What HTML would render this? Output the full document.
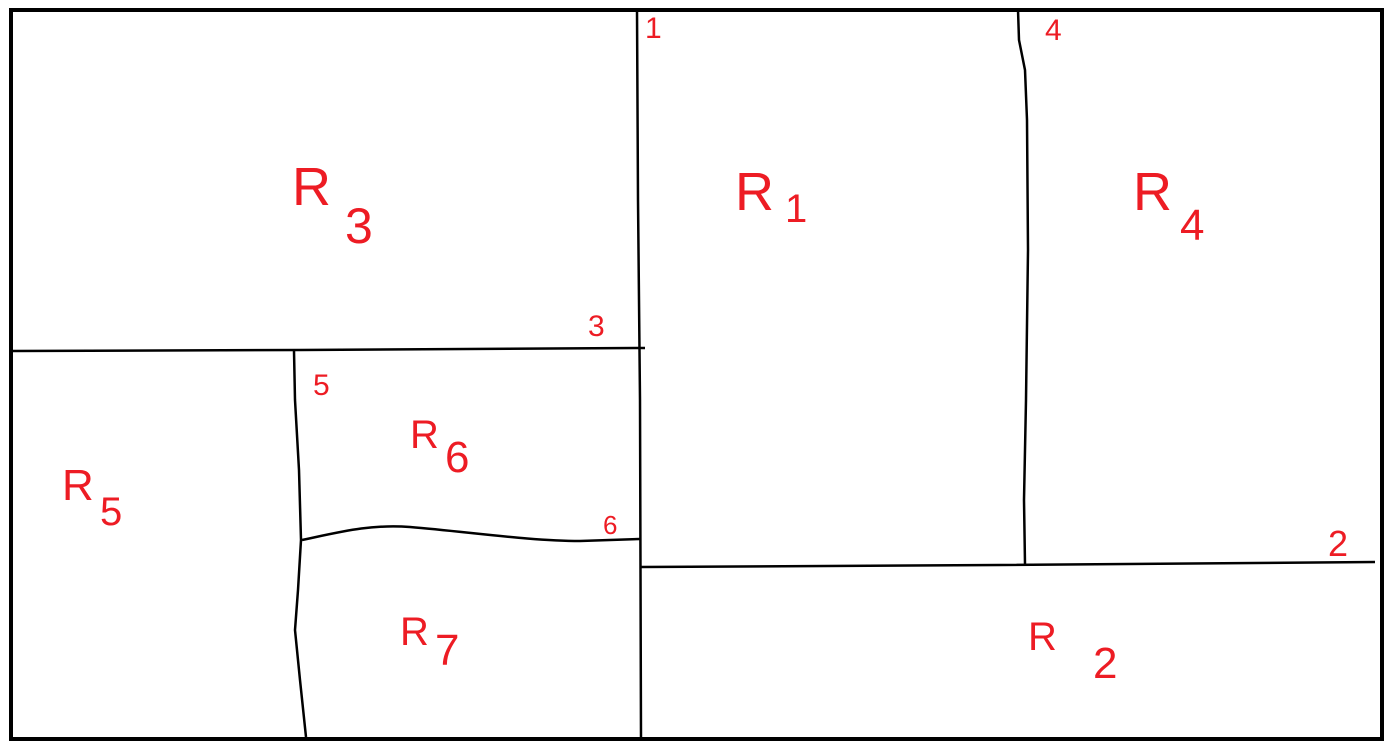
<!DOCTYPE html>
<html><head><meta charset="utf-8"><style>
html,body{margin:0;padding:0;background:#fff;}
svg{display:block;}
text{font-family:"Liberation Sans",sans-serif;fill:#ed1c24;}
</style></head><body>
<svg width="1393" height="755" viewBox="0 0 1393 755">
<rect x="11" y="10" width="1371" height="729" fill="none" stroke="#000" stroke-width="4"/>
<g fill="none" stroke="#000" stroke-width="2.5">
<path d="M637 10 L638 200 L640 400 L641 740"/>
<path d="M12 351 L300 350 L645 348"/>
<path d="M294 351 L295 400 L299 470 L301 540 L298 590 L295 630 L300 680 L306 737"/>
<path d="M302 540 C340 532 370 524 410 527 C470 532 530 541 580 541 L640 539"/>
<path d="M641 567 L1000 565 L1375 562"/>
<path d="M1018 10 L1019 40 L1025 70 L1027 120 L1028 250 L1026 400 L1024 500 L1025 564"/>
</g>
<g font-size="54">
<text x="292" y="205">R<tspan x="345" y="243" font-size="50">3</tspan></text>
<text x="735" y="210">R<tspan x="785" y="222" font-size="40">1</tspan></text>
<text x="1133" y="210">R<tspan x="1180" y="240" font-size="44">4</tspan></text>
<text x="410" y="448" font-size="40">R<tspan x="445" y="472" font-size="44">6</tspan></text>
<text x="62" y="500" font-size="44">R<tspan x="100" y="525" font-size="40">5</tspan></text>
<text x="400" y="645" font-size="40">R<tspan x="435" y="665" font-size="44">7</tspan></text>
<text x="1028" y="650" font-size="40">R<tspan x="1093" y="678" font-size="44">2</tspan></text>
</g>
<g font-size="30">
<text x="645" y="38">1</text>
<text x="1045" y="40">4</text>
<text x="588" y="336">3</text>
<text x="313" y="395">5</text>
<text x="603" y="534" font-size="26">6</text>
<text x="1328" y="556" font-size="36">2</text>
</g>
</svg>
</body></html>
